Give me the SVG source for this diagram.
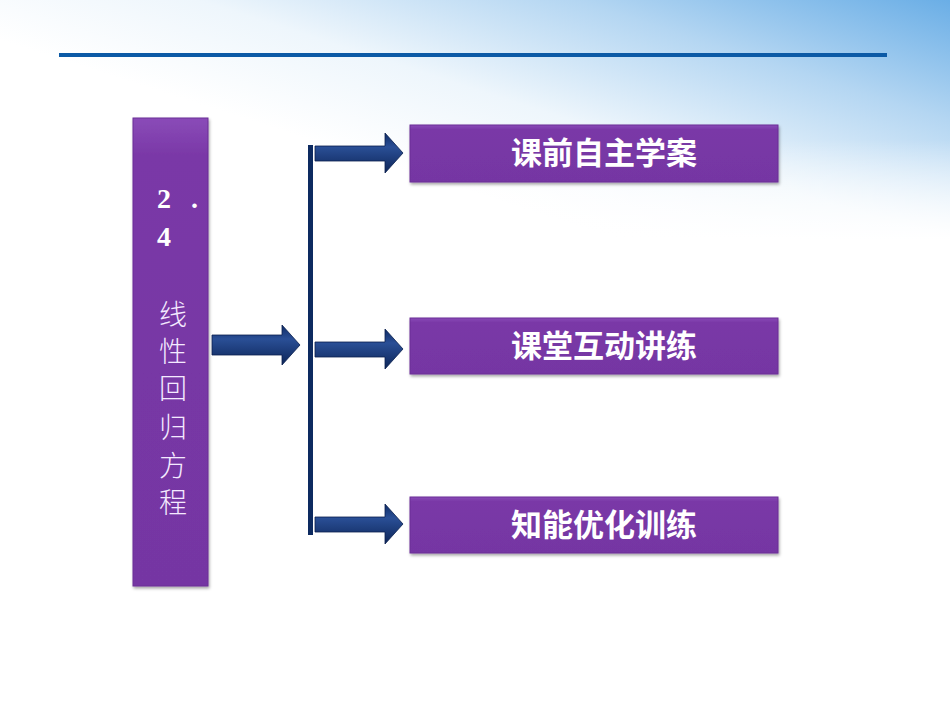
<svg xmlns="http://www.w3.org/2000/svg" width="950" height="713" viewBox="0 0 950 713">
<defs>
<linearGradient id="sky" x1="1" y1="0" x2="0.3" y2="0.55">
<stop offset="0" stop-color="#6aaee6"/>
<stop offset="0.35" stop-color="#b4d6f2"/>
<stop offset="0.7" stop-color="#eef6fc"/>
<stop offset="1" stop-color="#ffffff"/>
</linearGradient>
<linearGradient id="fade" x1="0" y1="0" x2="0" y2="1">
<stop offset="0" stop-color="#ffffff" stop-opacity="0"/>
<stop offset="1" stop-color="#ffffff" stop-opacity="1"/>
</linearGradient>
<linearGradient id="arrowGrad" x1="0" y1="0" x2="0" y2="1">
<stop offset="0" stop-color="#0f2c66"/>
<stop offset="0.35" stop-color="#2a4f96"/>
<stop offset="1" stop-color="#0d2558"/>
</linearGradient>
<linearGradient id="purp" x1="0" y1="0" x2="0" y2="1">
<stop offset="0" stop-color="#8a4bb8"/>
<stop offset="0.08" stop-color="#7a38a7"/>
<stop offset="1" stop-color="#7536a3"/>
</linearGradient>
<filter id="sh" x="-10%" y="-10%" width="130%" height="140%">
<feDropShadow dx="1" dy="2" stdDeviation="1.5" flood-color="#000" flood-opacity="0.35"/>
</filter>
</defs>
<style>
.box{fill:url(#purp);stroke:#6a2f95;stroke-width:1;filter:url(#sh)}
.lbl{font-family:"Liberation Sans","Noto Sans CJK SC",sans-serif;font-weight:bold;font-size:31px;fill:#ffffff;text-anchor:middle}
.vt{font-family:"Noto Sans CJK SC",sans-serif;font-weight:300;font-size:28px;fill:#f4eaff;text-anchor:middle}
.num{font-family:"Liberation Serif",serif;font-weight:bold;font-size:28px;fill:#ffffff}
.arr{fill:url(#arrowGrad);stroke:#0a1f4e;stroke-width:0.8}
</style>
<rect width="950" height="713" fill="#ffffff"/>
<rect width="950" height="240" fill="url(#sky)"/>
<rect y="140" width="950" height="100" fill="url(#fade)"/>
<rect x="59" y="53" width="828" height="4" fill="#0c5aa6"/>
<g id="topic">
<rect class="box" x="133" y="118" width="75" height="468"/>
<text class="num" x="157" y="208">2</text>
<text class="num" x="191" y="208">.</text>
<text class="num" x="157" y="246">4</text>
<text class="vt" x="173" y="325">线</text>
<text class="vt" x="173" y="362">性</text>
<text class="vt" x="173" y="399">回</text>
<text class="vt" x="173" y="438">归</text>
<text class="vt" x="173" y="476">方</text>
<text class="vt" x="173" y="513">程</text>
</g>
<g id="connectors">
<path class="arr" d="M212,335 L282,335 L282,325 L300,345 L282,365 L282,355 L212,355 Z"/>
<rect x="308" y="145" width="5" height="390" fill="#0d2a60"/>
<path class="arr" d="M315,146 L385,146 L385,133 L403,153 L385,173 L385,161 L315,161 Z"/>
<path class="arr" d="M315,342 L385,342 L385,329 L403,349 L385,369 L385,357 L315,357 Z"/>
<path class="arr" d="M315,517 L385,517 L385,504 L403,524 L385,544 L385,532 L315,532 Z"/>
</g>
<g id="node1">
<rect class="box" x="410" y="125" width="368" height="57"/>
<text class="lbl" x="604" y="164">课前自主学案</text>
</g>
<g id="node2">
<rect class="box" x="410" y="318" width="368" height="56"/>
<text class="lbl" x="604" y="357">课堂互动讲练</text>
</g>
<g id="node3">
<rect class="box" x="410" y="497" width="368" height="56"/>
<text class="lbl" x="604" y="536">知能优化训练</text>
</g>
</svg>
